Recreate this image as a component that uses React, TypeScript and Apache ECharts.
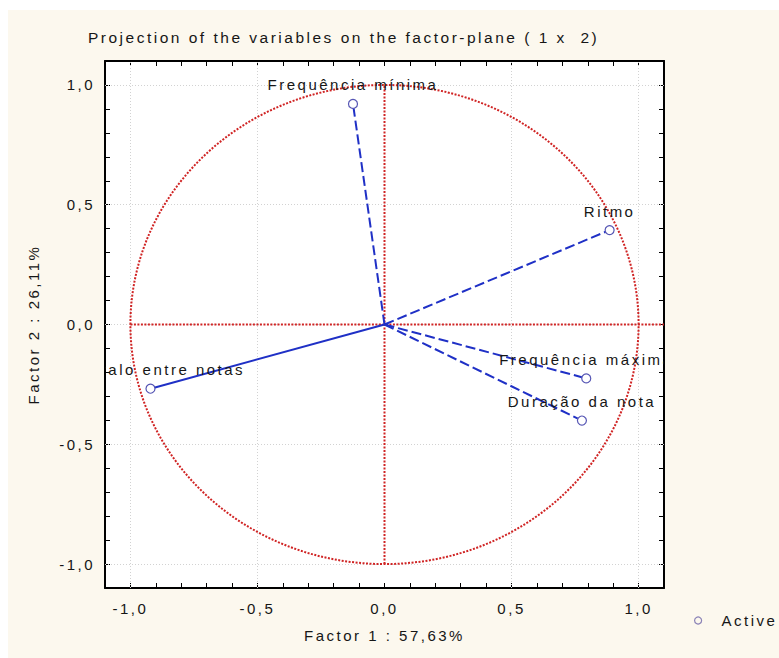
import React, { useEffect, useRef } from "react";
import * as echarts from "echarts";

// Factor loadings of each variable on the first two factors
const variableNames = [
  "Frequência mínima",
  "Ritmo",
  "Frequência máxima",
  "Duração da nota",
  "Intervalo entre notas",
];
const factor1 = [-0.124, 0.886, 0.794, 0.777, -0.921];
const factor2 = [0.921, 0.394, -0.225, -0.401, -0.268];

// Variable whose projection line is drawn solid instead of dashed
const solidVariable = "Intervalo entre notas";

// Labelled ticks and grid lines
const tickLabelValues = [-1, -0.5, 0, 0.5, 1];
const xGridValues = [-1, -0.5, 0.5, 1];
const yGridValues = [-1, -0.5, 0, 0.5, 1];

// Unit correlation circle radius
const circleRadius = 1;

const FONT = "'Liberation Sans', Arial, Helvetica, sans-serif";
const TEXT_COLOR = "#161616";
const RED = "#d02424";
const BLUE = "#1f30c6";

const fmtTick = (v: number) => {
  const hit = tickLabelValues.find((t) => Math.abs(t - v) < 1e-6);
  if (hit === undefined) return "";
  return (hit === 0 ? 0 : hit).toFixed(1).replace(".", ",");
};

const baseAxis = {
  type: "value" as const,
  min: -1.1,
  max: 1.1,
  interval: 0.1,
  axisLine: { show: true, onZero: false, lineStyle: { color: "#000", width: 2 } },
  axisTick: { show: true, inside: true, length: 5, lineStyle: { color: "#000", width: 1 } },
  splitLine: { show: false },
};

export default function App() {
  const ref = useRef<HTMLDivElement>(null);

  useEffect(() => {
    if (!ref.current) return;
    const chart = echarts.init(ref.current, undefined, { renderer: "svg" });

    const projectionLines = variableNames.map((name, i) => ({
      type: "line",
      name: "proj-" + name,
      data: [
        [0, 0],
        [factor1[i], factor2[i]],
      ],
      symbol: "none",
      silent: true,
      z: 4,
      lineStyle: {
        color: BLUE,
        width: 2,
        type: name === solidVariable ? "solid" : [10, 4],
      },
    }));

    chart.setOption({
      animation: false,
      backgroundColor: "#fcf8ee",
      textStyle: { fontFamily: FONT },
      title: {
        text: "Projection of the variables on the factor-plane ( 1 x  2)",
        left: 80,
        top: 19,
        padding: 0,
        textStyle: { fontSize: 15.5, fontWeight: "normal", color: TEXT_COLOR, fontFamily: FONT },
      },
      legend: {
        left: 686,
        top: 603,
        padding: 0,
        itemWidth: 37,
        itemHeight: 7,
        selectedMode: false,
        data: [
          {
            name: "Active",
            icon: "circle",
            itemStyle: { color: "rgba(0,0,0,0)", borderColor: "#8a82b6", borderWidth: 1.2 },
          },
        ],
        textStyle: { fontSize: 15, color: TEXT_COLOR, fontFamily: FONT },
      },
      grid: {
        left: 97,
        right: 115,
        top: 51,
        bottom: 70,
        show: true,
        backgroundColor: "#ffffff",
        borderWidth: 0,
      },
      xAxis: [
        {
          ...baseAxis,
          position: "bottom",
          name: "Factor 1 : 57,63%",
          nameLocation: "middle",
          nameGap: 40,
          nameTextStyle: { fontSize: 15, color: TEXT_COLOR, fontFamily: FONT },
          axisLabel: { formatter: fmtTick, margin: 13, fontSize: 15, color: TEXT_COLOR, fontFamily: FONT },
        },
        { ...baseAxis, position: "top", axisLabel: { show: false } },
      ],
      yAxis: [
        {
          ...baseAxis,
          position: "left",
          name: "Factor 2 : 26,11%",
          nameLocation: "middle",
          nameGap: 64,
          nameTextStyle: { fontSize: 15, color: TEXT_COLOR, fontFamily: FONT },
          axisLabel: { formatter: fmtTick, margin: 10, fontSize: 15, color: TEXT_COLOR, fontFamily: FONT },
        },
        { ...baseAxis, position: "right", axisLabel: { show: false } },
      ],
      series: [
        // dotted grid at the labelled ticks
        {
          type: "line",
          name: "grid",
          data: [],
          silent: true,
          z: 1,
          markLine: {
            silent: true,
            z: 1,
            symbol: "none",
            label: { show: false },
            lineStyle: { color: "#d2d2d2", width: 1, type: [1, 2] },
            data: [
              ...xGridValues.map((v) => ({ xAxis: v })),
              ...yGridValues.map((v) => ({ yAxis: v })),
            ],
          },
        },
        // red reference axes through the origin
        {
          type: "line",
          name: "axis-v",
          data: [
            [0, -circleRadius],
            [0, circleRadius],
          ],
          symbol: "none",
          silent: true,
          z: 3,
          lineStyle: { color: RED, width: 2, type: [2, 1.5] },
        },
        {
          type: "line",
          name: "axis-h",
          data: [
            [-circleRadius, 0],
            [1.1, 0],
          ],
          symbol: "none",
          silent: true,
          z: 3,
          lineStyle: { color: RED, width: 2, type: [2, 1.5] },
        },
        // unit correlation circle
        {
          type: "custom",
          name: "circle",
          data: [[0, 0, circleRadius]],
          silent: true,
          z: 3,
          renderItem: (_params: any, api: any) => {
            const c = api.coord([api.value(0), api.value(1)]);
            const s = api.size([api.value(2), api.value(2)]);
            return {
              type: "ellipse",
              shape: { cx: c[0], cy: c[1], rx: s[0], ry: s[1] },
              style: { fill: "none", stroke: RED, lineWidth: 2, lineDash: [2, 1.5] },
            };
          },
        },
        ...projectionLines,
        // variable points with their names, clipped to the plot area
        {
          type: "custom",
          name: "Active",
          clip: true,
          z: 10,
          data: variableNames.map((n, i) => [factor1[i], factor2[i]]),
          renderItem: (params: any, api: any) => {
            const p = api.coord([api.value(0), api.value(1)]);
            return {
              type: "group",
              children: [
                {
                  type: "circle",
                  shape: { cx: p[0], cy: p[1], r: 4.5 },
                  style: { fill: "#ffffff", stroke: "#5656b4", lineWidth: 1.2 },
                },
                {
                  type: "text",
                  x: p[0],
                  y: p[1] - 19,
                  style: {
                    text: variableNames[params.dataIndex],
                    align: "center",
                    verticalAlign: "middle",
                    fill: TEXT_COLOR,
                    fontSize: 15,
                    fontFamily: FONT,
                  },
                },
              ],
            };
          },
        },
      ],
    });

    return () => chart.dispose();
  }, []);

  return (
    <div
      ref={ref}
      style={{
        position: "absolute",
        left: 8,
        top: 10,
        width: 771,
        height: 648,
        letterSpacing: "2.5px",
      }}
    />
  );
}
